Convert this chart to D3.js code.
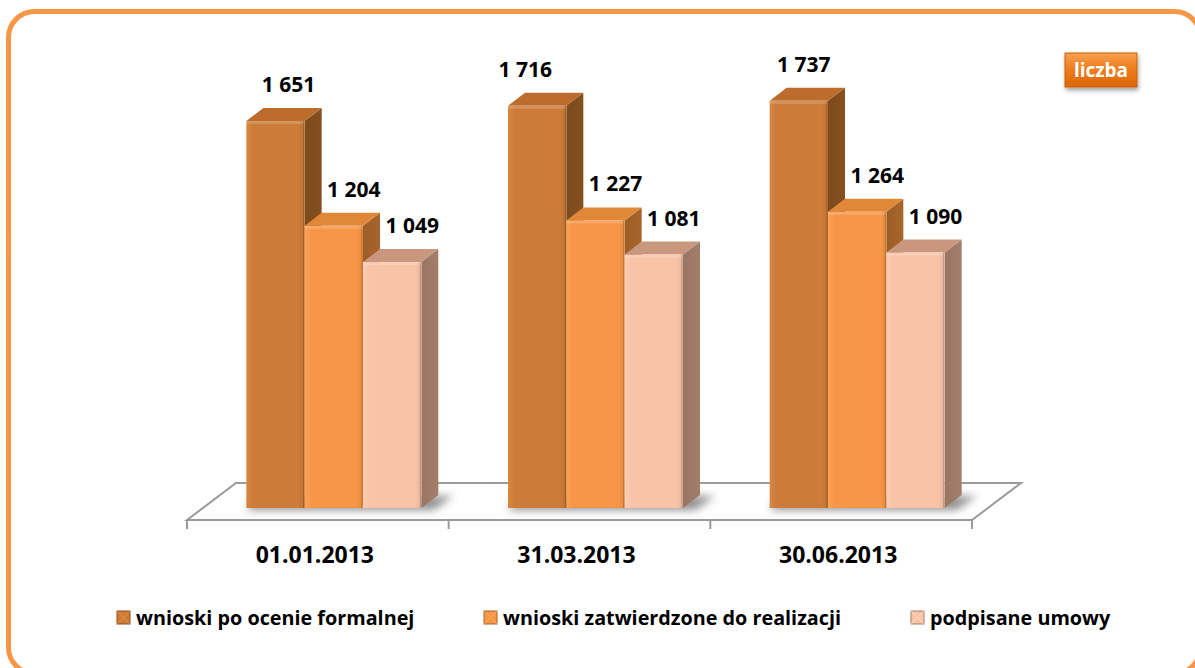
<!DOCTYPE html>
<html>
<head>
<meta charset="utf-8">
<script src="https://cdn.jsdelivr.net/npm/d3@7"></script>
<style>
  html, body { margin: 0; padding: 0; background: #fff; }
  svg { display: block; font-family: 'Open Sans', 'Liberation Sans', sans-serif; }
</style>
</head>
<body>
<svg id="chart" width="1195" height="668"></svg>
<script>
// ---- data ----
const categories = ["01.01.2013", "31.03.2013", "30.06.2013"];
const seriesNames = ["wnioski po ocenie formalnej", "wnioski zatwierdzone do realizacji", "podpisane umowy"];
const formalnej = [1651, 1716, 1737];
const zatwierdzone = [1204, 1227, 1264];
const umowy = [1049, 1081, 1090];
const unitLabel = "liczba";

// ---- layout / style ----
const seriesValues = [formalnej, zatwierdzone, umowy];
const colors = [
  { front: "#CC7B38", frontLight: "#D68840", side: "#86501F", top: "#BC6C2D" },
  { front: "#F79646", frontLight: "#FBA257", side: "#A8652A", top: "#E08838" },
  { front: "#F9C3A8", frontLight: "#FCCDB5", side: "#A37E6B", top: "#C8977E" }
];
const floorFront = { y: 520, x0: 187, x1: 972 };
const floorShift = { dx: 49, dy: -37 };
const baseY = 508;          // bottom of bar front faces
const depth = { dx: 17, dy: -13 };
const groupWidth = 175;
const groupShift = 16;
const labelShiftFirst = [11, -14, 3];

const svg = d3.select("#chart");
const defs = svg.append("defs");

colors.forEach((c, i) => {
  const g = defs.append("linearGradient").attr("id", "front" + i)
    .attr("x1", 0).attr("x2", 1).attr("y1", 0).attr("y2", 0);
  g.append("stop").attr("offset", "0%").attr("stop-color", c.frontLight);
  g.append("stop").attr("offset", "12%").attr("stop-color", c.front);
  g.append("stop").attr("offset", "90%").attr("stop-color", c.front);
  g.append("stop").attr("offset", "100%").attr("stop-color", d3.color(c.front).darker(0.25));
  const gs = defs.append("linearGradient").attr("id", "side" + i)
    .attr("x1", 0).attr("x2", 1).attr("y1", 0).attr("y2", 0);
  gs.append("stop").attr("offset", "0%").attr("stop-color", d3.color(c.side).darker(0.2));
  gs.append("stop").attr("offset", "100%").attr("stop-color", c.side);
});
const blur = defs.append("filter").attr("id", "blur").attr("x", "-50%").attr("y", "-50%").attr("width", "200%").attr("height", "200%");
blur.append("feGaussianBlur").attr("stdDeviation", 4);
const sh = defs.append("filter").attr("id", "boxShadow").attr("x", "-30%").attr("y", "-30%").attr("width", "160%").attr("height", "180%");
sh.append("feDropShadow").attr("dx", 1).attr("dy", 3).attr("stdDeviation", 2).attr("flood-color", "#000").attr("flood-opacity", 0.35);
const lg = defs.append("linearGradient").attr("id", "boxGrad").attr("x1", 0).attr("x2", 0).attr("y1", 0).attr("y2", 1);
lg.append("stop").attr("offset", "0%").attr("stop-color", "#F7A050");
lg.append("stop").attr("offset", "45%").attr("stop-color", "#EE7E1E");
lg.append("stop").attr("offset", "100%").attr("stop-color", "#DA6608");

// outer rounded border
svg.append("rect")
  .attr("x", 8.5).attr("y", 11.5).attr("width", 1192).attr("height", 662)
  .attr("rx", 26).attr("ry", 26)
  .attr("fill", "#fff").attr("stroke", "#F79646").attr("stroke-width", 5);

// scales
const x = d3.scaleBand().domain(categories).range([floorFront.x0, floorFront.x1]).padding(0);
const xs = d3.scaleBand().domain(d3.range(seriesValues.length)).range([0, groupWidth]).padding(0);
const y = d3.scaleLinear().domain([0, 2000]).range([baseY, baseY - 2000 * 0.2344]);

// floor
const fx0 = floorFront.x0, fx1 = floorFront.x1, fy = floorFront.y;
svg.append("polygon")
  .attr("points", [[fx0, fy], [fx0 + floorShift.dx, fy + floorShift.dy], [fx1 + floorShift.dx, fy + floorShift.dy], [fx1, fy]].map(p => p.join(",")).join(" "))
  .attr("fill", "#fff").attr("stroke", "#9a9a9a").attr("stroke-width", 2).attr("stroke-linejoin", "miter");
const tickXs = categories.map(c => x(c)).concat([x(categories[categories.length - 1]) + x.bandwidth()]);
svg.selectAll("line.tick").data(tickXs).enter().append("line")
  .attr("x1", d => d).attr("x2", d => d).attr("y1", fy).attr("y2", fy + 9)
  .attr("stroke", "#9a9a9a").attr("stroke-width", 2);

const gx = c => x(c) + x.bandwidth() / 2 + groupShift - groupWidth / 2;

// shadows on the floor
categories.forEach(c => {
  const left = gx(c), right = left + groupWidth;
  svg.append("polygon")
    .attr("points", [[left + 10, baseY - 12], [right + 32, baseY - 12], [right + 12, baseY + 2], [left, baseY + 2]].map(p => p.join(",")).join(" "))
    .attr("fill", "#444").attr("opacity", 0.6).attr("filter", "url(#blur)");
});

// bars
const bars = [];
categories.forEach((c, ci) => {
  seriesValues.forEach((vals, si) => bars.push({ c, ci, si, v: vals[ci] }));
});

const barG = svg.append("g");
bars.forEach(b => {
  const x0 = gx(b.c) + xs(b.si);
  const w = xs.bandwidth();
  const y0 = y(b.v);
  const col = colors[b.si];
  const g = barG.append("g");
  g.append("polygon")
    .attr("points", [[x0 + w, y0], [x0 + w + depth.dx, y0 + depth.dy], [x0 + w + depth.dx, baseY + depth.dy], [x0 + w, baseY]].map(p => p.join(",")).join(" "))
    .attr("fill", `url(#side${b.si})`);
  g.append("polygon")
    .attr("points", [[x0, y0], [x0 + depth.dx, y0 + depth.dy], [x0 + w + depth.dx, y0 + depth.dy], [x0 + w, y0]].map(p => p.join(",")).join(" "))
    .attr("fill", col.top);
  g.append("rect").attr("x", x0).attr("y", y0).attr("width", w).attr("height", baseY - y0)
    .attr("fill", `url(#front${b.si})`);
  g.append("rect").attr("x", x0).attr("y", y0).attr("width", w).attr("height", 3)
    .attr("fill", "#fff").attr("opacity", 0.18);
  g.append("line").attr("x1", x0 + w - 1).attr("x2", x0 + w - 1).attr("y1", y0).attr("y2", baseY)
    .attr("stroke", d3.color(col.side).darker(0.3)).attr("stroke-width", 1).attr("opacity", 0.5);
});

// value labels
const fmt = v => d3.format(",")(v).replace(/,/g, " ");
svg.append("g").selectAll("text").data(bars).enter().append("text")
  .attr("x", b => gx(b.c) + xs(b.si) + xs.bandwidth() / 2 + (b.si === 0 ? 2 + labelShiftFirst[b.ci] : 20))
  .attr("y", b => y(b.v) - 29)
  .attr("text-anchor", "middle")
  .attr("font-size", 21).attr("font-weight", 700).attr("fill", "#000")
  .text(b => fmt(b.v));

// category labels
svg.append("g").selectAll("text").data(categories).enter().append("text")
  .attr("x", c => x(c) + x.bandwidth() / 2 - 3)
  .attr("y", 563)
  .attr("text-anchor", "middle")
  .attr("font-size", 23).attr("font-weight", 700).attr("fill", "#000")
  .text(c => c);

// legend
const legendX = [117, 484, 911];
const leg = svg.append("g").selectAll("g").data(seriesNames).enter().append("g")
  .attr("transform", (d, i) => `translate(${legendX[i]},611)`);
leg.append("rect").attr("width", 13).attr("height", 13)
  .attr("fill", (d, i) => colors[i].front).attr("stroke", (d, i) => colors[i].side).attr("stroke-width", 1);
leg.append("path").attr("d", "M0,0 L6.5,6.5 L13,0 M0,13 L6.5,6.5 L13,13")
  .attr("fill", "none").attr("stroke", (d, i) => d3.color(colors[i].frontLight).brighter(0.3)).attr("stroke-width", 1).attr("opacity", 0.7);
leg.append("text").attr("x", 19).attr("y", 13.5).attr("font-size", 19.8).attr("font-weight", 700).attr("fill", "#000")
  .text(d => d);

// unit box
const ub = svg.append("g");
ub.append("rect").attr("x", 1065).attr("y", 53).attr("width", 72).attr("height", 34)
  .attr("fill", "url(#boxGrad)").attr("stroke", "#C8600A").attr("stroke-width", 1).attr("filter", "url(#boxShadow)");
ub.append("text").attr("x", 1101).attr("y", 77).attr("text-anchor", "middle")
  .attr("font-size", 19).attr("font-weight", 700).attr("fill", "#fff").text(unitLabel);
</script>
</body>
</html>
